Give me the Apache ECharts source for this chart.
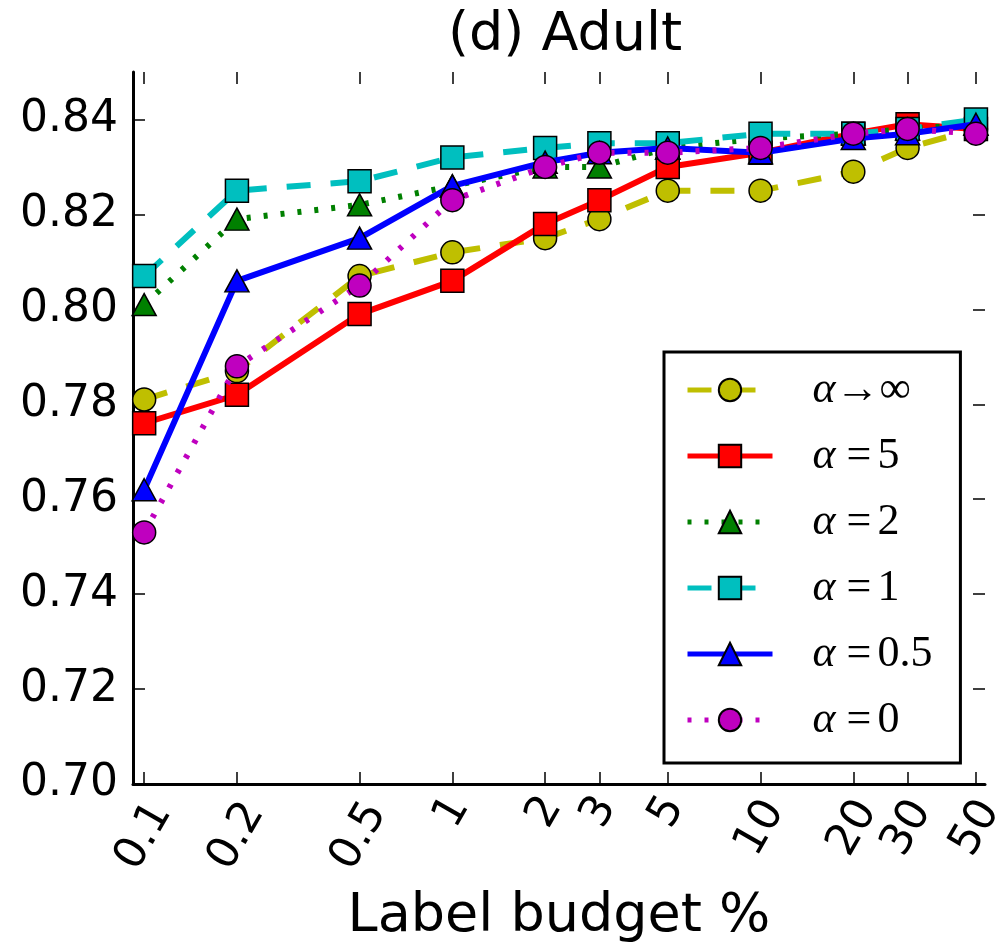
<!DOCTYPE html>
<html><head><meta charset="utf-8">
<script src="https://cdn.jsdelivr.net/npm/echarts@6/dist/echarts.min.js"></script>
<style>html,body{margin:0;padding:0;background:#fff}#c{width:1000px;height:950px}</style>
</head><body><div id="c"></div>
<script>
// ---- data ----
const budget = [0.1, 0.2, 0.5, 1, 2, 3, 5, 10, 20, 30, 50];
const tickLabels = ['0.1', '0.2', '0.5', '1', '2', '3', '5', '10', '20', '30', '50'];
const yTicks = [0.70, 0.72, 0.74, 0.76, 0.78, 0.80, 0.82, 0.84];
const seriesNames = ['α→∞', 'α=5', 'α=2', 'α=1', 'α=0.5', 'α=0'];
const alphaInf = [0.781, 0.787, 0.807, 0.812, 0.815, 0.819, 0.825, 0.825, 0.829, 0.834, 0.838];
const alpha5   = [0.776, 0.782, 0.799, 0.806, 0.818, 0.823, 0.830, 0.833, 0.837, 0.839, 0.838];
const alpha2   = [0.801, 0.819, 0.822, 0.826, 0.830, 0.830, 0.834, 0.836, 0.837, 0.838, 0.839];
const alpha1   = [0.807, 0.825, 0.827, 0.832, 0.834, 0.835, 0.835, 0.837, 0.837, 0.838, 0.840];
const alpha05  = [0.762, 0.806, 0.815, 0.826, 0.831, 0.833, 0.834, 0.833, 0.836, 0.837, 0.839];
const alpha0   = [0.753, 0.788, 0.805, 0.823, 0.830, 0.833, 0.833, 0.834, 0.837, 0.838, 0.837];

// ---- build ----
const xTickVals = budget.map(Math.log10);
const xMin = Math.log10(0.092), xMax = Math.log10(53.5);
const pts = arr => arr.map((v, i) => [Math.log10(budget[i]), v]);
function labelFor(v) {
  let best = 0, bd = 1e9;
  xTickVals.forEach((t, i) => { const d = Math.abs(t - v); if (d < bd) { bd = d; best = i; } });
  return tickLabels[best];
}
const styles = [
  { c: '#bfbf00', sym: 'circle', type: [24, 20], size: 23 },
  { c: '#ff0000', sym: 'rect', type: 'solid', size: 23 },
  { c: '#008000', sym: 'triangle', type: [4, 13], size: [24, 22] },
  { c: '#00bfbf', sym: 'rect', type: [24, 20], size: 23 },
  { c: '#0000ff', sym: 'triangle', type: 'solid', size: [24, 22] },
  { c: '#bf00bf', sym: 'circle', type: [4, 13], size: 23 }
];
const dataSets = [alphaInf, alpha5, alpha2, alpha1, alpha05, alpha0];
const series = dataSets.map((d, k) => ({
  name: seriesNames[k], type: 'line', data: pts(d),
  symbol: styles[k].sym, symbolSize: styles[k].size, showAllSymbol: true,
  lineStyle: { color: styles[k].c, width: 6, type: styles[k].type, cap: 'butt' },
  itemStyle: { color: styles[k].c, borderColor: '#000', borderWidth: 1.5 },
  emphasis: { disabled: true }, animation: false, z: 2 + k
}));
const sans = "'DejaVu Sans', sans-serif";
const serif = "'Liberation Serif', 'DejaVu Serif', serif";
const chart = echarts.init(document.getElementById('c'), null, { renderer: 'canvas' });
chart.setOption({
  backgroundColor: '#fff',
  animation: false,
  title: { text: '(d) Adult', left: 560, textAlign: 'center', top: 4,
    textStyle: { fontFamily: sans, fontSize: 54, fontWeight: 'normal', color: '#000' } },
  grid: { left: 133, right: 15, top: 72, bottom: 166, containLabel: false, outerBoundsMode: 'none' },
  xAxis: [{
    type: 'value', min: xMin, max: xMax, position: 'bottom',
    name: 'Label budget %', nameLocation: 'middle', nameGap: 106,
    nameTextStyle: { fontFamily: sans, fontSize: 54, color: '#000' },
    axisLine: { show: true, onZero: false, lineStyle: { color: '#000', width: 3 } },
    axisTick: { show: true, inside: true, length: 12, customValues: xTickVals, lineStyle: { color: '#000', width: 1.5 } },
    axisLabel: {
      customValues: xTickVals, rotate: 60, align: 'right', verticalAlign: 'top', margin: 12,
      fontFamily: sans, fontSize: 44, color: '#000',
      formatter: v => { const s = labelFor(v); const g = s.length === 3 ? 'l' : (s.length === 2 ? 'm' : 's'); return '{' + g + '|' + s + '}'; },
      rich: {
        l: { fontFamily: sans, fontSize: 44, color: '#000', lineHeight: 40 },
        m: { fontFamily: sans, fontSize: 44, color: '#000', lineHeight: 32 },
        s: { fontFamily: sans, fontSize: 44, color: '#000', lineHeight: 16 }
      }
    },
    splitLine: { show: false }
  }, {
    type: 'value', min: xMin, max: xMax, position: 'top',
    axisLine: { show: false, onZero: false },
    axisTick: { show: true, inside: true, length: 12, customValues: xTickVals, lineStyle: { color: '#000', width: 1.5 } },
    axisLabel: { show: false }, splitLine: { show: false }
  }],
  yAxis: [{
    type: 'value', min: 0.70, max: 0.85, position: 'left',
    axisLine: { show: true, onZero: false, lineStyle: { color: '#000', width: 3 } },
    axisTick: { show: true, inside: true, length: 12, customValues: yTicks, lineStyle: { color: '#000', width: 1.5 } },
    axisLabel: { customValues: yTicks, margin: 15, fontFamily: sans, fontSize: 44, color: '#000', formatter: v => v.toFixed(2) },
    splitLine: { show: false }
  }, {
    type: 'value', min: 0.70, max: 0.85, position: 'right',
    axisLine: { show: false, onZero: false },
    axisTick: { show: true, inside: true, length: 12, customValues: yTicks, lineStyle: { color: '#000', width: 1.5 } },
    axisLabel: { show: false }, splitLine: { show: false }
  }],
  legend: {
    data: seriesNames, orient: 'vertical', left: 664, top: 352,
    padding: [16, 28, 21, 21], itemGap: 22, itemWidth: 85, itemHeight: 28,
    backgroundColor: '#fff', borderColor: '#000', borderWidth: 3, borderRadius: 0,
    selectedMode: false,
    lineStyle: { width: 5 },
    textStyle: { fontFamily: serif, fontSize: 44, color: '#000', lineHeight: 44, padding: [0, 0, 0, 35],
      rich: {
        a: { fontFamily: serif, fontStyle: 'italic', fontSize: 44, color: '#000', lineHeight: 44 },
        b: { fontFamily: serif, fontSize: 44, color: '#000', lineHeight: 44 },
        c: { fontFamily: serif, fontSize: 44, color: '#000', lineHeight: 44, padding: [0, 0, 0, 6] }
      } },
    formatter: name => {
      const rest = name.slice(1);
      if (rest[0] === '=') return '{a|α} {b|=}{c|' + rest.slice(1) + '}';
      return '{a|α}{b|' + rest + '}';
    }
  },
  series: series
});
</script>
</body></html>
